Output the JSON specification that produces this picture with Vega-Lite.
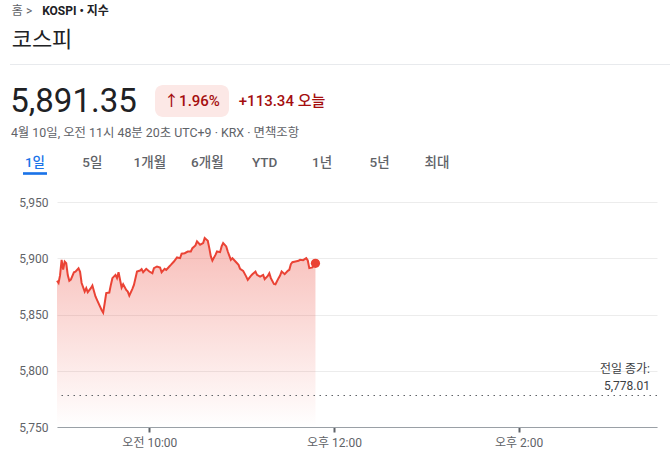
{
  "$schema": "https://vega.github.io/schema/vega-lite/v6.json",
  "background": "#ffffff",
  "padding": {"left": 10, "top": 0, "right": 0, "bottom": 0},
  "spacing": 0,
  "config": {"view": {"stroke": null}, "font": "Roboto, Noto Sans CJK KR, sans-serif"},
  "datasets": {
    "kospi": [
      {"t": "2026-04-10T09:00", "v": 5880},
      {"t": "2026-04-10T09:01", "v": 5878},
      {"t": "2026-04-10T09:02", "v": 5885},
      {"t": "2026-04-10T09:03", "v": 5898.6},
      {"t": "2026-04-10T09:04", "v": 5890},
      {"t": "2026-04-10T09:05", "v": 5897},
      {"t": "2026-04-10T09:06", "v": 5895.5},
      {"t": "2026-04-10T09:07", "v": 5885},
      {"t": "2026-04-10T09:08", "v": 5880},
      {"t": "2026-04-10T09:09", "v": 5881},
      {"t": "2026-04-10T09:11", "v": 5887.5},
      {"t": "2026-04-10T09:12", "v": 5888},
      {"t": "2026-04-10T09:14", "v": 5891},
      {"t": "2026-04-10T09:15", "v": 5888},
      {"t": "2026-04-10T09:16", "v": 5878},
      {"t": "2026-04-10T09:18", "v": 5870.4},
      {"t": "2026-04-10T09:19", "v": 5873.4},
      {"t": "2026-04-10T09:20", "v": 5869.8},
      {"t": "2026-04-10T09:22", "v": 5873.4},
      {"t": "2026-04-10T09:23", "v": 5875.7},
      {"t": "2026-04-10T09:25", "v": 5866},
      {"t": "2026-04-10T09:26", "v": 5863},
      {"t": "2026-04-10T09:28", "v": 5857},
      {"t": "2026-04-10T09:29", "v": 5854},
      {"t": "2026-04-10T09:30", "v": 5851.7},
      {"t": "2026-04-10T09:31", "v": 5860},
      {"t": "2026-04-10T09:32", "v": 5869},
      {"t": "2026-04-10T09:34", "v": 5869.5},
      {"t": "2026-04-10T09:35", "v": 5876.3},
      {"t": "2026-04-10T09:36", "v": 5882.3},
      {"t": "2026-04-10T09:38", "v": 5885.2},
      {"t": "2026-04-10T09:39", "v": 5882.3},
      {"t": "2026-04-10T09:40", "v": 5887.6},
      {"t": "2026-04-10T09:42", "v": 5874},
      {"t": "2026-04-10T09:43", "v": 5876.9},
      {"t": "2026-04-10T09:45", "v": 5871.9},
      {"t": "2026-04-10T09:46", "v": 5870.4},
      {"t": "2026-04-10T09:47", "v": 5866.8},
      {"t": "2026-04-10T09:49", "v": 5872.8},
      {"t": "2026-04-10T09:50", "v": 5876.3},
      {"t": "2026-04-10T09:52", "v": 5888.2},
      {"t": "2026-04-10T09:54", "v": 5889.1},
      {"t": "2026-04-10T09:55", "v": 5890.3},
      {"t": "2026-04-10T09:56", "v": 5887.6},
      {"t": "2026-04-10T09:58", "v": 5890.6},
      {"t": "2026-04-10T10:00", "v": 5888.2},
      {"t": "2026-04-10T10:02", "v": 5886.7},
      {"t": "2026-04-10T10:03", "v": 5891.2},
      {"t": "2026-04-10T10:05", "v": 5892.7},
      {"t": "2026-04-10T10:07", "v": 5891.8},
      {"t": "2026-04-10T10:08", "v": 5887.6},
      {"t": "2026-04-10T10:10", "v": 5890.6},
      {"t": "2026-04-10T10:11", "v": 5889.7},
      {"t": "2026-04-10T10:13", "v": 5892.7},
      {"t": "2026-04-10T10:14", "v": 5894.1},
      {"t": "2026-04-10T10:16", "v": 5897.1},
      {"t": "2026-04-10T10:18", "v": 5900.7},
      {"t": "2026-04-10T10:20", "v": 5900.1},
      {"t": "2026-04-10T10:21", "v": 5904},
      {"t": "2026-04-10T10:23", "v": 5904.5},
      {"t": "2026-04-10T10:25", "v": 5906},
      {"t": "2026-04-10T10:27", "v": 5906},
      {"t": "2026-04-10T10:28", "v": 5909},
      {"t": "2026-04-10T10:30", "v": 5911.4},
      {"t": "2026-04-10T10:31", "v": 5915},
      {"t": "2026-04-10T10:33", "v": 5912},
      {"t": "2026-04-10T10:35", "v": 5913.5},
      {"t": "2026-04-10T10:36", "v": 5917.9},
      {"t": "2026-04-10T10:38", "v": 5915.5},
      {"t": "2026-04-10T10:39", "v": 5909},
      {"t": "2026-04-10T10:40", "v": 5901.6},
      {"t": "2026-04-10T10:41", "v": 5898},
      {"t": "2026-04-10T10:43", "v": 5903},
      {"t": "2026-04-10T10:44", "v": 5906},
      {"t": "2026-04-10T10:46", "v": 5905.4},
      {"t": "2026-04-10T10:47", "v": 5910.5},
      {"t": "2026-04-10T10:48", "v": 5913.5},
      {"t": "2026-04-10T10:50", "v": 5910.5},
      {"t": "2026-04-10T10:51", "v": 5906},
      {"t": "2026-04-10T10:53", "v": 5898.6},
      {"t": "2026-04-10T10:54", "v": 5900.1},
      {"t": "2026-04-10T10:56", "v": 5897.1},
      {"t": "2026-04-10T10:58", "v": 5894.1},
      {"t": "2026-04-10T10:59", "v": 5890.6},
      {"t": "2026-04-10T11:01", "v": 5888.8},
      {"t": "2026-04-10T11:03", "v": 5883.7},
      {"t": "2026-04-10T11:04", "v": 5880.8},
      {"t": "2026-04-10T11:06", "v": 5884.3},
      {"t": "2026-04-10T11:07", "v": 5885.8},
      {"t": "2026-04-10T11:09", "v": 5888.2},
      {"t": "2026-04-10T11:10", "v": 5885.2},
      {"t": "2026-04-10T11:12", "v": 5883.7},
      {"t": "2026-04-10T11:14", "v": 5885.2},
      {"t": "2026-04-10T11:15", "v": 5881.4},
      {"t": "2026-04-10T11:17", "v": 5884.3},
      {"t": "2026-04-10T11:18", "v": 5886.7},
      {"t": "2026-04-10T11:19", "v": 5882.3},
      {"t": "2026-04-10T11:21", "v": 5877.2},
      {"t": "2026-04-10T11:22", "v": 5876.9},
      {"t": "2026-04-10T11:24", "v": 5882.3},
      {"t": "2026-04-10T11:25", "v": 5884.6},
      {"t": "2026-04-10T11:26", "v": 5888.2},
      {"t": "2026-04-10T11:28", "v": 5885.8},
      {"t": "2026-04-10T11:30", "v": 5888.8},
      {"t": "2026-04-10T11:31", "v": 5889.7},
      {"t": "2026-04-10T11:32", "v": 5894.7},
      {"t": "2026-04-10T11:33", "v": 5896.5},
      {"t": "2026-04-10T11:35", "v": 5897.1},
      {"t": "2026-04-10T11:37", "v": 5897.7},
      {"t": "2026-04-10T11:38", "v": 5898.6},
      {"t": "2026-04-10T11:40", "v": 5898.3},
      {"t": "2026-04-10T11:42", "v": 5900.1},
      {"t": "2026-04-10T11:43", "v": 5898},
      {"t": "2026-04-10T11:44", "v": 5891.2},
      {"t": "2026-04-10T11:46", "v": 5891.8},
      {"t": "2026-04-10T11:47", "v": 5894.1},
      {"t": "2026-04-10T11:48", "v": 5895.5}
    ]
  },
  "vconcat": [
    {
      "hconcat": [
        {"width": 24, "height": 22, "data": {"values": [{"label": "홈  >"}]}, "mark": {"type": "text", "fontSize": 12, "color": "#5f6368"}, "encoding": {"text": {"field": "label"}}},
        {"width": 67, "height": 22, "data": {"values": [{"label": "KOSPI • 지수"}]}, "mark": {"type": "text", "fontSize": 12, "fontWeight": "bold", "color": "#202124"}, "encoding": {"text": {"field": "label"}}}
      ],
      "spacing": 8
    },
    {"width": 64, "height": 42, "data": {"values": [{"label": "코스피"}]}, "mark": {"type": "text", "fontSize": 22, "dy": -3, "color": "#202124"}, "encoding": {"text": {"field": "label"}}},
    {
      "vconcat": [
        {"width": 660, "height": 1, "view": {"fill": "#e8eaed"}, "data": {"values": []}, "mark": "text"},
        {
          "hconcat": [
            {"width": 127, "height": 32, "data": {"values": [{"label": "5,891.35"}]}, "mark": {"type": "text", "fontSize": 33, "dy": 1, "color": "#202124"}, "encoding": {"text": {"field": "label"}}},
            {
              "hconcat": [
                {"width": 74, "height": 32, "view": {"fill": "#fce8e6", "cornerRadius": 8}, "data": {"values": [{"label": "↑1.96%"}]}, "mark": {"type": "text", "fontSize": 15, "fontWeight": 500, "color": "#a50e0e"}, "encoding": {"text": {"field": "label"}}},
                {"width": 88, "height": 32, "data": {"values": [{"label": "+113.34 오늘"}]}, "mark": {"type": "text", "fontSize": 15, "fontWeight": 500, "color": "#a50e0e"}, "encoding": {"text": {"field": "label"}}}
              ],
              "spacing": 9
            }
          ],
          "spacing": 18
        }
      ],
      "spacing": 20
    },
    {"width": 290, "height": 28, "data": {"values": [{"label": "4월 10일, 오전 11시 48분 20초 UTC+9 · KRX · 면책조항"}]}, "mark": {"type": "text", "fontSize": 12.4, "dy": 0, "color": "#5f6368"}, "encoding": {"text": {"field": "label"}}},
    {
      "vconcat": [
        {
          "width": 452,
          "height": 32,
          "data": {"values": [{"tab": "1일"}, {"tab": "5일"}, {"tab": "1개월"}, {"tab": "6개월"}, {"tab": "YTD"}, {"tab": "1년"}, {"tab": "5년"}, {"tab": "최대"}]},
          "layer": [
            {
              "mark": {"type": "text", "fontSize": 13.5, "fontWeight": 500},
              "encoding": {
                "x": {"field": "tab", "type": "nominal", "sort": null, "scale": {"type": "point", "padding": 0.435}, "axis": null},
                "text": {"field": "tab"},
                "color": {"condition": {"test": "datum.tab === '1일'", "value": "#1a73e8"}, "value": "#5f6368"}
              }
            },
            {
              "transform": [{"filter": "datum.tab === '1일'"}],
              "mark": {"type": "point", "shape": "M-1,-0.11H1V0.11H-1Z", "size": 576, "filled": true, "opacity": 1, "color": "#1a73e8", "strokeWidth": 0, "yOffset": 10.5},
              "encoding": {"x": {"field": "tab", "type": "nominal", "sort": null}}
            }
          ]
        },
        {
          "hconcat": [
            {"width": 47, "height": 225, "data": {"values": []}, "mark": "text"},
            {
              "width": 600,
              "height": 225,
              "data": {"name": "kospi"},
              "layer": [
                {
                  "mark": {"type": "area", "fill": {"gradient": "linear", "x1": 0, "y1": 0, "x2": 0, "y2": 1, "stops": [{"offset": 0, "color": "rgba(234,67,53,0.35)"}, {"offset": 1, "color": "rgba(234,67,53,0)"}]}},
                  "encoding": {
                    "x": {
                      "field": "t", "type": "temporal",
                      "scale": {"nice": false, "domain": [{"year": 2026, "month": 4, "date": 10, "hours": 9}, {"year": 2026, "month": 4, "date": 10, "hours": 15, "minutes": 30}]},
                      "axis": {
                        "values": [{"year": 2026, "month": 4, "date": 10, "hours": 10}, {"year": 2026, "month": 4, "date": 10, "hours": 12}, {"year": 2026, "month": 4, "date": 10, "hours": 14}],
                        "labelExpr": "(hours(datum.value) < 12 ? '오전 ' : '오후 ') + timeFormat(datum.value, '%-I:%M')",
                        "title": null, "grid": false, "domainColor": "#9aa0a6", "domainWidth": 1,
                        "tickColor": "#5f6368", "tickWidth": 2, "tickSize": 5,
                        "labelColor": "#5f6368", "labelFontSize": 12, "labelPadding": 5
                      }
                    },
                    "y": {
                      "field": "v", "type": "quantitative",
                      "scale": {"domain": [5750, 5950], "nice": false, "zero": false},
                      "axis": {"values": [5750, 5800, 5850, 5900, 5950], "format": ",d", "title": null, "domain": false, "ticks": false, "labelPadding": 9, "gridColor": "#ececec", "gridWidth": 1, "labelColor": "#5f6368", "labelFontSize": 12}
                    },
                    "y2": {"datum": 5750}
                  }
                },
                {
                  "mark": {"type": "line", "color": "#ea4335", "strokeWidth": 2},
                  "encoding": {"x": {"field": "t", "type": "temporal"}, "y": {"field": "v", "type": "quantitative"}}
                },
                {
                  "data": {"values": [{"label": "전일 종가:\n5,778.01", "close": 5778.01}]},
                  "mark": {"type": "rule", "color": "#5f6368", "strokeDash": [1.5, 4.5], "strokeWidth": 1.2},
                  "encoding": {"y": {"field": "close", "type": "quantitative"}}
                },
                {
                  "data": {"values": [{"label": "전일 종가:\n5,778.01", "close": 5778.01}]},
                  "mark": {"type": "text", "align": "right", "baseline": "bottom", "dx": -7, "dy": -19, "fontSize": 12, "lineHeight": 16.5, "lineBreak": "\n", "color": "#3c4043"},
                  "encoding": {
                    "x": {"datum": {"year": 2026, "month": 4, "date": 10, "hours": 15, "minutes": 30}, "type": "temporal"},
                    "y": {"field": "close", "type": "quantitative"},
                    "text": {"field": "label"}
                  }
                },
                {
                  "transform": [{"window": [{"op": "row_number", "as": "rn"}], "sort": [{"field": "t", "order": "descending"}]}, {"filter": "datum.rn === 1"}],
                  "mark": {"type": "point", "filled": true, "size": 85, "color": "#ea4335", "opacity": 1},
                  "encoding": {"x": {"field": "t", "type": "temporal"}, "y": {"field": "v", "type": "quantitative"}}
                }
              ]
            }
          ],
          "spacing": 0,
          "bounds": "flush"
        }
      ],
      "spacing": 17
    }
  ]
}
